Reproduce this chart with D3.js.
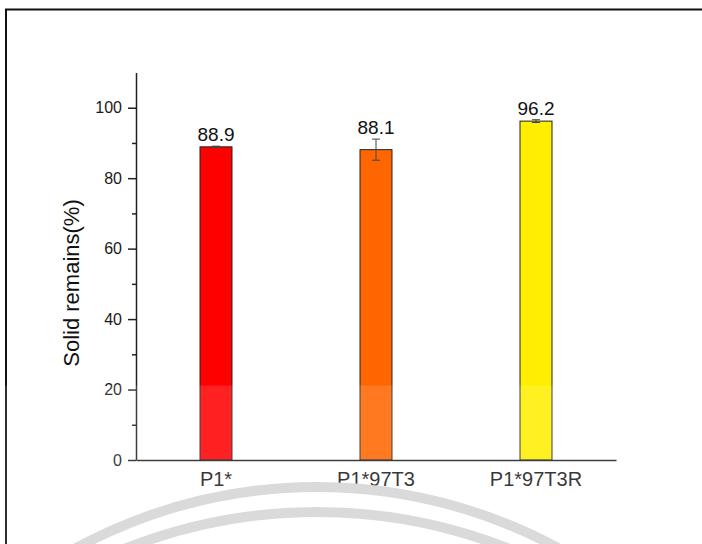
<!DOCTYPE html>
<html>
<head>
<meta charset="utf-8">
<script src="https://d3js.org/d3.v7.min.js"></script>
<style>
  body { margin: 0; background: #fff; }
  svg { display: block; font-family: "Liberation Sans", Arial, sans-serif; }
</style>
</head>
<body>
<div id="chart"></div>
<script>
//data
var categories = ["P1*", "P1*97T3", "P1*97T3R"];
var values = [88.9, 88.1, 96.2];
var errors = [0.2, 3.0, 0.4];
var colors = ["#ff0000", "#ff6600", "#ffee00"];
var yTicks = [0, 20, 40, 60, 80, 100];
var yMinor = [10, 30, 50, 70, 90];

var w = 702;
var h = 544;

var svg = d3.select("#chart")
            .append("svg")
            .attr("width", w)
            .attr("height", h);

//frame around the picture
svg.append("rect")
    .attr("x", 6)
    .attr("y", 9.5)
    .attr("width", 800)
    .attr("height", 800)
    .attr("fill", "none")
    .attr("stroke", "#111")
    .attr("stroke-width", 2);

var xScale = d3.scaleBand()
                .domain(categories)
                .range([136, 616]);

var yScale = d3.scaleLinear()
                .domain([0, 110])
                .range([460, 72.5]);

var barW = 32;

//bars
svg.selectAll("rect.bar")
    .data(values)
    .enter()
    .append("rect")
    .attr("class", "bar")
    .attr("x", function(d, i) { return xScale(categories[i]) + xScale.bandwidth() / 2 - barW / 2; })
    .attr("y", function(d) { return yScale(d); })
    .attr("width", barW)
    .attr("height", function(d) { return yScale(0) - yScale(d); })
    .attr("fill", function(d, i) { return colors[i]; })
    .attr("stroke", "#222")
    .attr("stroke-width", 1);

//error bars
var eb = svg.selectAll("g.err")
    .data(values)
    .enter()
    .append("g")
    .attr("class", "err")
    .attr("stroke", "#444")
    .attr("stroke-width", 1);

eb.append("line")
    .attr("x1", function(d, i) { return xScale(categories[i]) + xScale.bandwidth() / 2; })
    .attr("x2", function(d, i) { return xScale(categories[i]) + xScale.bandwidth() / 2; })
    .attr("y1", function(d, i) { return yScale(d + errors[i]); })
    .attr("y2", function(d, i) { return yScale(d - errors[i]); });

eb.append("line")
    .attr("x1", function(d, i) { return xScale(categories[i]) + xScale.bandwidth() / 2 - 4; })
    .attr("x2", function(d, i) { return xScale(categories[i]) + xScale.bandwidth() / 2 + 4; })
    .attr("y1", function(d, i) { return yScale(d + errors[i]); })
    .attr("y2", function(d, i) { return yScale(d + errors[i]); });

eb.append("line")
    .attr("x1", function(d, i) { return xScale(categories[i]) + xScale.bandwidth() / 2 - 4; })
    .attr("x2", function(d, i) { return xScale(categories[i]) + xScale.bandwidth() / 2 + 4; })
    .attr("y1", function(d, i) { return yScale(d - errors[i]); })
    .attr("y2", function(d, i) { return yScale(d - errors[i]); });

//value labels
svg.selectAll("text.val")
    .data(values)
    .enter()
    .append("text")
    .attr("class", "val")
    .attr("x", function(d, i) { return xScale(categories[i]) + xScale.bandwidth() / 2; })
    .attr("y", function(d, i) { return yScale(d + errors[i]) - 5; })
    .attr("text-anchor", "middle")
    .style("font-size", "19px")
    .style("fill", "#111")
    .text(function(d) { return d.toFixed(1); });

//y axis
var yAxis = svg.append("g")
    .attr("transform", "translate(136,0)")
    .call(d3.axisLeft(yScale).tickValues(yTicks).tickSize(8).tickPadding(6).tickSizeOuter(0));

svg.append("g")
    .attr("transform", "translate(136,0)")
    .call(d3.axisLeft(yScale).tickValues(yMinor).tickSize(4).tickFormat("").tickSizeOuter(0))
    .select(".domain").remove();

yAxis.selectAll("text")
    .style("font-size", "16px")
    .style("fill", "#1a1a1a");
yAxis.selectAll("line, path")
    .attr("stroke", "#222")
    .attr("stroke-width", 1.5);
svg.selectAll(".tick line").attr("stroke", "#222").attr("stroke-width", 1.5);

//x axis
var xAxis = svg.append("g")
    .attr("transform", "translate(0,460)")
    .call(d3.axisBottom(xScale).tickSize(0).tickPadding(12).tickSizeOuter(0));

xAxis.select(".domain")
    .attr("stroke", "#222")
    .attr("stroke-width", 1.5);
xAxis.selectAll("text")
    .style("font-size", "20px")
    .style("fill", "#1a1a1a");

//y title
svg.append("text")
    .attr("transform", "translate(79,283) rotate(-90)")
    .attr("text-anchor", "middle")
    .style("font-size", "22px")
    .style("fill", "#111")
    .text("Solid remains(%)");

//watermark: pale band and arcs
svg.append("rect")
    .attr("x", 0)
    .attr("y", 385.5)
    .attr("width", w)
    .attr("height", h - 385.5)
    .attr("fill", "#fff")
    .attr("fill-opacity", 0.13);

svg.append("circle")
    .attr("cx", 317)
    .attr("cy", 993)
    .attr("r", 506)
    .attr("fill", "none")
    .attr("stroke", "#dadada")
    .attr("stroke-width", 10);

svg.append("circle")
    .attr("cx", 317)
    .attr("cy", 1032)
    .attr("r", 520)
    .attr("fill", "none")
    .attr("stroke", "#dadada")
    .attr("stroke-width", 10);
</script>
</body>
</html>
